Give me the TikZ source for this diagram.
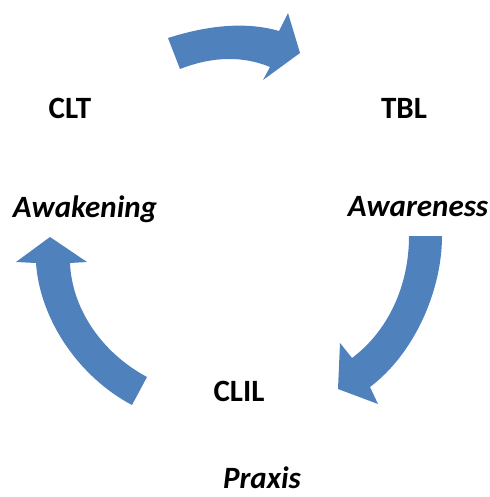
\documentclass[tikz,border=0pt]{standalone}
\usepackage{fontspec}
\setmainfont{Carlito}
\definecolor{arrowblue}{HTML}{4F81BD}
\tikzset{
  blockarrow/.style={fill=arrowblue, draw=none},
  lbl/.style={font=\fontsize{31}{36}\selectfont\bfseries, anchor=base, inner sep=0pt},
  ilbl/.style={font=\fontsize{31}{36}\selectfont\bfseries\itshape, anchor=base, inner sep=0pt}
}
\begin{document}
\begin{tikzpicture}[x=1pt,y=-1pt]
\useasboundingbox (0,0) rectangle (489,497);
% top arrow
\path[blockarrow] (168,38) .. controls (211,24.3) and (248,22) .. (279,31)
  -- (288,13) -- (300,53) -- (263,80) -- (270,67)
  .. controls (242.7,55.7) and (212.7,56.3) .. (180,69) -- cycle;
% right arrow
\path[blockarrow] (442,236) .. controls (442,291) and (414,354) .. (370,387)
  -- (378,404) -- (338,389) -- (340,343) -- (352,358)
  .. controls (388,331) and (409,286) .. (409,236) -- cycle;
% left arrow
\path[blockarrow] (132,405) .. controls (79,377) and (40,320) .. (36,263)
  -- (16,262) -- (50,237) -- (87,262) -- (70,263)
  .. controls (72,310) and (103,353.5) .. (147,377) -- cycle;
% labels
\node[lbl] (clt) at (70,119) {CLT};
\node[lbl] (tbl) at (404,119) {TBL};
\node[ilbl] (awak) at (85,217) {Awakening};
\node[ilbl] (aware) at (418,216) {Awareness};
\node[lbl] (clil) at (239,401) {CLIL};
\node[ilbl] (praxis) at (262,488) {Praxis};
\end{tikzpicture}
\end{document}
